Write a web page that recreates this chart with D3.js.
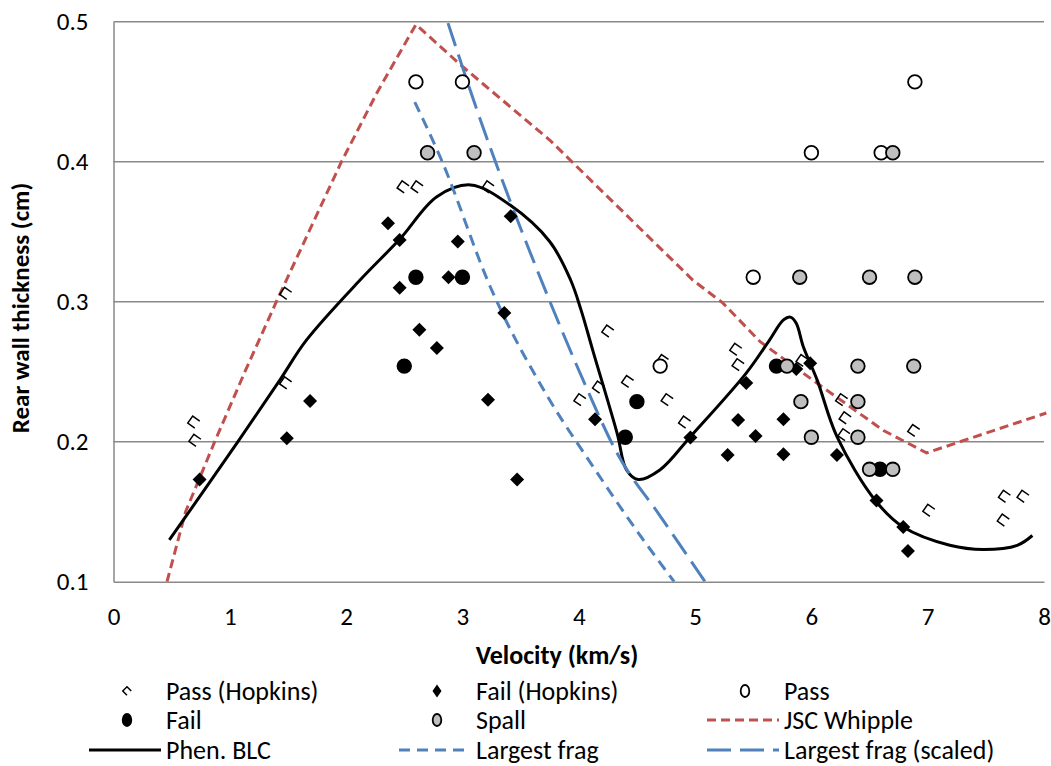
<!DOCTYPE html>
<html>
<head>
<meta charset="utf-8">
<script src="https://cdn.jsdelivr.net/npm/d3@7"></script>
<style>
  body { margin: 0; background: #fff; }
  svg text { font-family: Carlito, Lato, "Liberation Sans", sans-serif; fill: #000; }
</style>
</head>
<body>
<svg id="chart" width="1051" height="766"></svg>
<script>
// [velocity km/s, rear wall thickness cm]
const passHopkins = [
  [0.69, 0.214], [0.70, 0.201], [1.48, 0.306], [1.48, 0.242], [2.49, 0.382], [2.61, 0.382],
  [3.22, 0.382], [4.25, 0.279], [4.17, 0.239], [4.01, 0.230], [4.42, 0.243], [4.72, 0.258],
  [4.76, 0.230], [4.91, 0.214], [5.35, 0.266], [5.37, 0.255], [5.92, 0.258], [6.26, 0.230],
  [6.29, 0.217], [6.28, 0.205], [6.88, 0.208], [7.01, 0.151], [7.66, 0.161], [7.82, 0.161],
  [7.65, 0.144]
];
const failHopkins = [
  [0.74, 0.173], [1.49, 0.2025], [1.69, 0.229], [2.36, 0.356], [2.46, 0.344], [2.46, 0.310],
  [2.96, 0.343], [2.88, 0.3175], [3.415, 0.361], [2.63, 0.280], [2.78, 0.267], [3.36, 0.292],
  [3.22, 0.230], [3.47, 0.173], [4.14, 0.216], [4.96, 0.203], [5.44, 0.242], [5.37, 0.2155],
  [5.52, 0.204], [5.28, 0.1905], [5.76, 0.216], [5.76, 0.191], [5.87, 0.252], [5.99, 0.256],
  [6.22, 0.1905], [6.56, 0.158], [6.79, 0.139], [6.83, 0.122]
];
const pass = [
  [2.60, 0.457], [3.00, 0.457], [6.00, 0.4064], [6.60, 0.4064], [6.89, 0.457],
  [5.50, 0.3175], [4.70, 0.254]
];
const fail = [
  [2.50, 0.254], [2.60, 0.3175], [3.00, 0.3175], [4.50, 0.2286], [4.40, 0.2032],
  [5.70, 0.254], [6.59, 0.1803]
];
const spall = [
  [2.70, 0.4064], [3.10, 0.4064], [6.70, 0.4064], [5.90, 0.3175], [6.50, 0.3175], [6.89, 0.3175],
  [5.79, 0.254], [6.40, 0.254], [6.88, 0.254], [5.91, 0.2286], [6.40, 0.2286], [6.00, 0.2032],
  [6.40, 0.2032], [6.50, 0.1803], [6.70, 0.1803]
];
const jscWhipple = [
  [0.46, 0.1], [0.62, 0.15], [0.87, 0.2], [1.13, 0.25], [1.40, 0.3], [1.68, 0.35], [1.96, 0.4],
  [2.27, 0.45], [2.60, 0.498], [3.00, 0.468], [3.75, 0.4155], [4.98, 0.3155], [5.24, 0.299],
  [5.56, 0.2714], [6.05, 0.2417], [6.62, 0.208], [6.99, 0.192], [8.02, 0.2205]
];
const phenBLC = [
  [0.48, 0.1298], [1.07, 0.2], [1.43, 0.244], [1.66, 0.2727], [2.12, 0.3155], [2.46, 0.3446],
  [2.78, 0.375], [3.07, 0.3834], [3.41, 0.369], [3.75, 0.343], [3.93, 0.3155], [4.02, 0.294],
  [4.125, 0.264], [4.33, 0.206], [4.41, 0.180], [4.51, 0.173], [4.70, 0.180], [4.96, 0.2036],
  [5.44, 0.249], [5.64, 0.2726], [5.76, 0.287], [5.82, 0.289], [5.87, 0.2846], [5.93, 0.268],
  [6.05, 0.244], [6.22, 0.2036], [6.55, 0.158], [6.79, 0.139], [7.19, 0.126], [7.48, 0.123],
  [7.77, 0.126], [7.90, 0.133]
];
const largestFrag = [
  [2.59, 0.4426], [2.82, 0.4012], [3.24, 0.3105], [3.75, 0.2298], [4.12, 0.1826],
  [4.47, 0.1398], [4.82, 0.100]
];
const largestFragScaled = [
  [2.876, 0.499], [3.125, 0.4369], [3.736, 0.3034], [4.037, 0.2441], [4.329, 0.1919],
  [4.70, 0.1469], [5.086, 0.100]
];
const xTicks = [0, 1, 2, 3, 4, 5, 6, 7, 8];
const yTicks = [0.1, 0.2, 0.3, 0.4, 0.5];
const legendItems = [
  ["Pass (Hopkins)", "bracket"], ["Fail (Hopkins)", "diamond"], ["Pass", "open"],
  ["Fail", "black"], ["Spall", "gray"], ["JSC Whipple", "jsc"],
  ["Phen. BLC", "blc"], ["Largest frag", "frag"], ["Largest frag (scaled)", "fragScaled"]
];

const RED = "#C0504D", BLUE = "#4F81BD", GRID = "#898989";
const svg = d3.select("#chart");
const plotLeft = 113.5, plotRight = 1044, plotTop = 21.7, plotBottom = 581.7;

const x = d3.scaleLinear().domain([0, 8]).range([plotLeft, plotRight]);
const y = d3.scaleLinear().domain([0.1, 0.5]).range([plotBottom, plotTop]);

// gridlines
svg.append("g")
  .selectAll("line")
  .data(yTicks.slice(1))
  .enter().append("line")
  .attr("x1", plotLeft).attr("x2", plotRight)
  .attr("y1", d => y(d)).attr("y2", d => y(d))
  .attr("stroke", GRID).attr("stroke-width", 1.5);

const xAxis = svg.append("g")
  .attr("transform", `translate(0,${plotBottom})`)
  .call(d3.axisBottom(x).tickValues(xTicks).tickSize(0).tickPadding(31).tickFormat(d3.format("d")));
const yAxis = svg.append("g")
  .attr("transform", `translate(${plotLeft},0)`)
  .call(d3.axisLeft(y).tickValues(yTicks).tickSize(0).tickPadding(25).tickFormat(d3.format(".1f")));
[xAxis, yAxis].forEach(a => {
  a.select(".domain").attr("stroke", GRID).attr("stroke-width", 1.5);
  a.selectAll("text").style("font-size", "25px").style("font-family", "Carlito, Lato, sans-serif");
});
xAxis.selectAll("text").attr("dy", "0.5em");

svg.append("text")
  .attr("x", 557).attr("y", 664)
  .attr("text-anchor", "middle")
  .style("font-size", "26px").style("font-weight", "bold")
  .text("Velocity (km/s)");
svg.append("text")
  .attr("transform", "translate(29,308) rotate(-90)")
  .attr("text-anchor", "middle")
  .style("font-size", "25px").style("font-weight", "bold")
  .text("Rear wall thickness (cm)");

svg.append("clipPath").attr("id", "plotclip")
  .append("rect").attr("x", plotLeft).attr("y", plotTop - 2)
  .attr("width", plotRight - plotLeft + 6).attr("height", plotBottom - plotTop + 2);

const plot = svg.append("g").attr("clip-path", "url(#plotclip)");

const linear = d3.line().x(d => x(d[0])).y(d => y(d[1]));
const smooth = d3.line().x(d => x(d[0])).y(d => y(d[1])).curve(d3.curveCatmullRom.alpha(0.5));
const mono = d3.line().x(d => x(d[0])).y(d => y(d[1])).curve(d3.curveMonotoneX);

const lineStyles = {
  jsc: { color: RED, dash: "9,5" },
  blc: { color: "#000", dash: null },
  frag: { color: BLUE, dash: "11,7" },
  fragScaled: { color: BLUE, dash: "24,9" }
};

function drawLine(data, gen, key) {
  plot.append("path")
    .datum(data)
    .attr("d", gen)
    .attr("fill", "none")
    .attr("stroke", lineStyles[key].color)
    .attr("stroke-width", 3)
    .attr("stroke-dasharray", lineStyles[key].dash);
}
drawLine(jscWhipple, linear, "jsc");
drawLine(phenBLC, smooth, "blc");
drawLine(largestFrag, mono, "frag");
drawLine(largestFragScaled, mono, "fragScaled");

const bracketPath = s => `M${s},${-s} L${-s},${-s} L${-s},${s} L${s},${s}`;

function drawMarker(g, kind, cx, cy, legend) {
  if (kind === "bracket") {
    const s = legend ? 3 : 4.3;
    g.append("path").attr("d", bracketPath(s))
      .attr("transform", `translate(${cx},${cy}) rotate(${legend ? 45 : 35})`)
      .attr("fill", "none").attr("stroke", "#000").attr("stroke-width", 1.5);
  } else if (kind === "diamond") {
    const w = legend ? 4.5 : 7, h = legend ? 6.5 : 7;
    g.append("path").attr("d", `M0,${-h} L${w},0 L0,${h} L${-w},0 Z`)
      .attr("transform", `translate(${cx},${cy})`)
      .attr("fill", "#000");
  } else {
    const fill = kind === "open" ? "#fff" : kind === "gray" ? "#BFBFBF" : "#000";
    g.append("ellipse")
      .attr("cx", cx).attr("cy", cy)
      .attr("rx", legend ? 4.3 : 6.8).attr("ry", legend ? 6 : 6.8)
      .attr("fill", fill).attr("stroke", "#000").attr("stroke-width", 1.8);
  }
}

const markerSeries = [
  [passHopkins, "bracket"], [failHopkins, "diamond"], [pass, "open"], [fail, "black"], [spall, "gray"]
];
markerSeries.forEach(([data, kind]) => {
  const g = svg.append("g");
  data.forEach(d => drawMarker(g, kind, x(d[0]), y(d[1]), false));
});

// legend
const colX = [127, 437, 745];
const rowY = [691, 720, 750];
const legend = svg.append("g");
legendItems.forEach(([label, kind], i) => {
  const cx = colX[i % 3], cy = rowY[Math.floor(i / 3)];
  if (lineStyles[kind]) {
    legend.append("line")
      .attr("x1", cx - 38).attr("x2", cx + 34)
      .attr("y1", cy).attr("y2", cy)
      .attr("stroke", lineStyles[kind].color).attr("stroke-width", 3)
      .attr("stroke-dasharray", lineStyles[kind].dash);
  } else {
    drawMarker(legend, kind, cx, cy, true);
  }
  legend.append("text")
    .attr("x", cx + 39).attr("y", cy)
    .attr("dy", "0.35em")
    .style("font-size", "26px")
    .text(label);
});
</script>
</body>
</html>
